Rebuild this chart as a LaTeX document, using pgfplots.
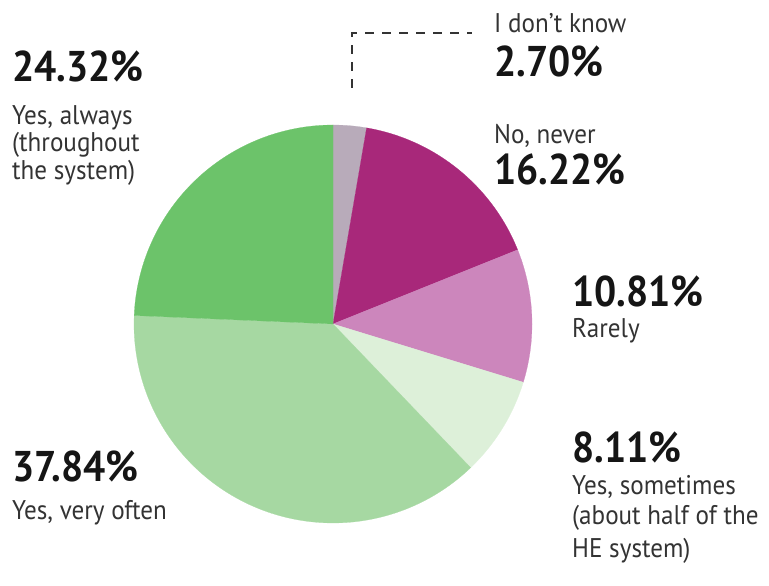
\documentclass[border=0pt]{standalone}
\usepackage{pgfplots}
\pgfplotsset{compat=1.18}
\usepackage{fontspec}
\setmainfont{PT Sans}[FakeStretch=0.93]
\newfontfamily\numfam{PT Sans}[FakeStretch=0.91]
\definecolor{cdk}{HTML}{B8ABBA}
\definecolor{cnever}{HTML}{A8287A}
\definecolor{crarely}{HTML}{CC86BC}
\definecolor{csome}{HTML}{DDF0D9}
\definecolor{coften}{HTML}{A6D8A2}
\definecolor{calways}{HTML}{6CC36A}
\definecolor{numc}{HTML}{151515}
\definecolor{labc}{HTML}{333333}
\newcommand{\numf}{\numfam\fontsize{43bp}{43bp}\selectfont\bfseries\color{numc}}
\newcommand{\labf}{\fontsize{27bp}{27bp}\selectfont\color{labc}}
\begin{document}
\begin{tikzpicture}
% shares (percent), clockwise from 12 o'clock
\def\pDK{2.70}\def\pNever{16.22}\def\pRarely{10.81}\def\pSome{8.11}\def\pOften{37.84}\def\pAlways{24.32}
\pgfmathsetmacro{\aA}{90}
\pgfmathsetmacro{\aB}{\aA-\pDK*3.6}
\pgfmathsetmacro{\aC}{\aB-\pNever*3.6}
\pgfmathsetmacro{\aD}{\aC-\pRarely*3.6}
\pgfmathsetmacro{\aE}{\aD-\pSome*3.6}
\pgfmathsetmacro{\aF}{\aE-\pOften*3.6}
\pgfmathsetmacro{\aG}{\aF-\pAlways*3.6}
\begin{axis}[width=769bp,height=586bp,scale only axis,
  xmin=0,xmax=769,ymin=0,ymax=586,hide axis,clip=false]
\path (axis cs:0,0) -- (axis cs:769,586);
\addplot[fill=cdk,draw=cdk,line width=0.2pt,domain=\aB:\aA,samples=20] ({333+199*cos(x)},{262+199*sin(x)}) -- (axis cs:333,262) -- cycle;
\addplot[fill=cnever,draw=cnever,line width=0.2pt,domain=\aC:\aB,samples=60] ({333+199*cos(x)},{262+199*sin(x)}) -- (axis cs:333,262) -- cycle;
\addplot[fill=crarely,draw=crarely,line width=0.2pt,domain=\aD:\aC,samples=40] ({333+199*cos(x)},{262+199*sin(x)}) -- (axis cs:333,262) -- cycle;
\addplot[fill=csome,draw=csome,line width=0.2pt,domain=\aE:\aD,samples=30] ({333+199*cos(x)},{262+199*sin(x)}) -- (axis cs:333,262) -- cycle;
\addplot[fill=coften,draw=coften,line width=0.2pt,domain=\aF:\aE,samples=120] ({333+199*cos(x)},{262+199*sin(x)}) -- (axis cs:333,262) -- cycle;
\addplot[fill=calways,draw=calways,line width=0.2pt,domain=\aG:\aF,samples=80] ({333+199*cos(x)},{262+199*sin(x)}) -- (axis cs:333,262) -- cycle;
% leader
\draw[labc,line width=1.5bp,dash pattern=on 9bp off 8bp] (axis cs:352,498) -- (axis cs:352,553) -- (axis cs:472,553);
% labels
\node[anchor=base west,inner sep=0pt] at (axis cs:12,504) {\numf 24.32\%};
\node[anchor=base west,inner sep=0pt] at (axis cs:12,461) {\labf Yes, always};
\node[anchor=base west,inner sep=0pt] at (axis cs:12,434) {\labf (throughout};
\node[anchor=base west,inner sep=0pt] at (axis cs:12,406) {\labf the system)};
\node[anchor=base west,inner sep=0pt] at (axis cs:494,553) {\labf I don't know};
\node[anchor=base west,inner sep=0pt] at (axis cs:494,509) {\numf 2.70\%};
\node[anchor=base west,inner sep=0pt] at (axis cs:494,442) {\labf No, never};
\node[anchor=base west,inner sep=0pt] at (axis cs:494,401) {\numf 16.22\%};
\node[anchor=base west,inner sep=0pt] at (axis cs:572,279) {\numf 10.81\%};
\node[anchor=base west,inner sep=0pt] at (axis cs:572,248) {\labf Rarely};
\node[anchor=base west,inner sep=0pt] at (axis cs:572,123) {\numf 8.11\%};
\node[anchor=base west,inner sep=0pt] at (axis cs:572,91) {\labf Yes, sometimes};
\node[anchor=base west,inner sep=0pt] at (axis cs:572,61) {\labf (about half of the};
\node[anchor=base west,inner sep=0pt] at (axis cs:572,29) {\labf HE system)};
\node[anchor=base west,inner sep=0pt] at (axis cs:12,104) {\numf 37.84\%};
\node[anchor=base west,inner sep=0pt] at (axis cs:12,66) {\labf Yes, very often};
\end{axis}
\end{tikzpicture}
\end{document}
